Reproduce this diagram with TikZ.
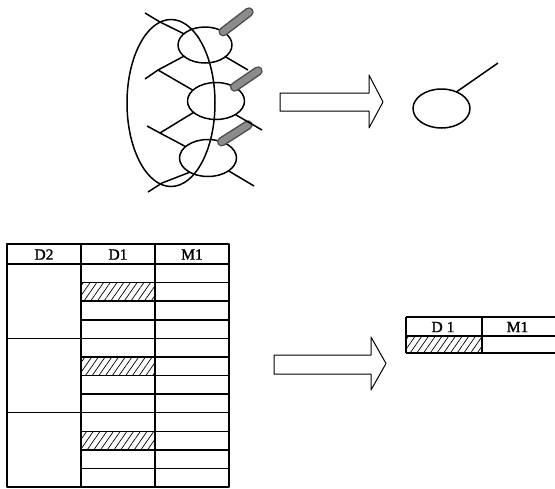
\documentclass[tikz,border=0pt]{standalone}
\usepackage{fontspec}
\setmainfont{Liberation Serif}
\newfontfamily\hdfont{Liberation Serif}[FakeBold=1.2]
\usetikzlibrary{shapes.geometric,patterns.meta}
\definecolor{rodedge}{HTML}{505050}
\definecolor{rodfill}{HTML}{8C8C8C}
\newcommand\myrod[2]{%
  \draw[line width=9.5pt, rodedge, line cap=round] (#1) -- (#2);
  \draw[line width=6.5pt, rodfill, line cap=round] (#1) -- (#2);}
\begin{document}
\begin{tikzpicture}[x=1pt,y=-1pt, line join=round,
  ln/.style={line width=1.5pt},
  el/.style={draw, ellipse, line width=1.5pt, inner sep=0pt, outer sep=0pt},
  tb/.style={line width=1.5pt},
  arr/.style={line width=1pt},
  hatch/.style={pattern={Lines[angle=55,distance=5.5pt,line width=0.7pt]}},
  hd/.style={font=\hdfont\fontsize{15.5}{15.5}\selectfont, inner sep=0pt},
]
\useasboundingbox (0,0) rectangle (555,488);

% ---------- top molecule figure ----------
\coordinate (t1) at (249,12);
\coordinate (t2) at (258,71);
\coordinate (t3) at (248,125);

\node[el, minimum width=54pt, minimum height=36pt] (e1) at (205,45) {};
\node[el, minimum width=57pt, minimum height=37pt] (e2) at (216,101) {};
\node[el, minimum width=57pt, minimum height=37pt] (e3) at (208,158) {};
\node[el, minimum width=88pt, minimum height=167pt] (big) at (171,103) {};

\myrod{e1.36}{t1}
\myrod{e2.37}{t2}
\myrod{e3.50}{t3}

\coordinate (j1) at (160,22);  \coordinate (s1) at (145,13);
\coordinate (j2) at (158,70);  \coordinate (s2) at (145,79);
\coordinate (j3) at (160,133); \coordinate (s3) at (147,126);
\coordinate (j4) at (162,183); \coordinate (s4) at (148,192);
\draw[ln] (s1) -- (j1) -- (e1.152);
\draw[ln] (s2) -- (j2);
\draw[ln] (e1.208) -- (j2) -- (e2.155);
\draw[ln] (s3) -- (j3);
\draw[ln] (e2.207) -- (j3) -- (e3.153);
\draw[ln] (s4) -- (j4) -- (e3.218);

\coordinate (q1) at (248,70);
\coordinate (q2) at (262,130);
\coordinate (q3) at (254,186);
\draw[ln] (e1.-30) -- (q1);
\draw[ln] (e2.-35) -- (q2);
\draw[ln] (e3.-32) -- (q3);

% arrow 1
\draw[arr] (280,93) -- (369,93) -- (369,75) -- (383,102) -- (369,128) -- (369,111) -- (280,111) -- cycle;

% right single ellipse
\node[el, minimum width=57pt, minimum height=39pt] (e4) at (441.5,108.5) {};
\coordinate (r4) at (498,63);
\draw[ln] (e4.48) -- (r4);

% ---------- table 1 ----------
\foreach \k in {1,5,9} {
  \fill[hatch] (81,{264+\k*18.583}) rectangle (155,{264+(\k+1)*18.583});
}
\foreach \k in {1,2,3,5,6,7,9,10,11} {
  \draw[tb] (81,{264+\k*18.583}) -- (229,{264+\k*18.583});
}
\draw[tb] (7,338.33) -- (229,338.33);
\draw[tb] (7,412.67) -- (229,412.67);
\draw[tb] (7,264) -- (229,264);
\draw[tb] (81,244) -- (81,487);
\draw[tb] (155,244) -- (155,487);
\draw[line width=1.7pt] (7,244) rectangle (229,487);
\node[hd] (h1) at (44,254.5) {D2};
\node[hd] (h2) at (118,254.5) {D1};
\node[hd] (h3) at (192,254.5) {M1};

% arrow 2
\draw[arr] (274,355) -- (371,355) -- (371,337) -- (386,363.5) -- (371,390) -- (371,374) -- (274,374) -- cycle;

% ---------- table 2 ----------
\fill[hatch] (406,336) rectangle (482,353);
\draw[tb] (406,317) -- (555,317);
\draw[tb] (406,336) -- (555,336);
\draw[tb] (406,353) -- (555,353);
\draw[tb] (406,317) -- (406,353);
\draw[tb] (482,317) -- (482,353);
\node[hd] (h4) at (443,327) {D\kern4pt1};
\node[hd] (h5) at (517.5,327) {M1};
\end{tikzpicture}
\end{document}
